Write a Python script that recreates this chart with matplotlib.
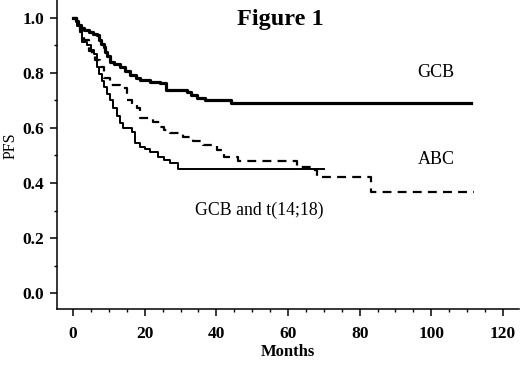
import numpy as np
import matplotlib
matplotlib.use("Agg")
import matplotlib.pyplot as plt
from matplotlib.ticker import MultipleLocator, FormatStrFormatter

# Kaplan-Meier step points (months, PFS)
gcb_t = [0, 0.8, 1.5, 2.2, 3.0, 4.3, 5.5, 6.6, 7.2, 7.8, 8.5, 9.0, 9.4, 10.3, 11.5, 13, 14.5, 16,
         17.5, 18.7, 21.5, 24.3, 26, 31.7, 33, 34.5, 36.8, 44, 111]
gcb_s = [1.0, 0.99, 0.975, 0.963, 0.955, 0.95, 0.943, 0.938, 0.92, 0.905, 0.896, 0.875, 0.86, 0.84,
         0.832, 0.823, 0.808, 0.793, 0.782, 0.775, 0.768, 0.762, 0.738, 0.732, 0.72, 0.71, 0.70,
         0.69, 0.69]

abc_t = [0, 1, 2, 3, 4.5, 5.3, 6.1, 7.5, 8.5, 10.3, 13.1, 15, 16.5, 17.8, 18.7, 22.4, 24.3, 25.5,
         27, 30.8, 33.6, 36.4, 40.1, 42, 46, 62.5, 67, 68, 83.3, 112]
abc_s = [1.0, 0.97, 0.95, 0.92, 0.88, 0.865, 0.847, 0.823, 0.78, 0.756, 0.744, 0.70, 0.688, 0.672,
         0.635, 0.623, 0.605, 0.592, 0.58, 0.568, 0.554, 0.538, 0.52, 0.496, 0.481, 0.459, 0.446,
         0.42, 0.368, 0.368]

t1418_t = [0, 1, 2.4, 4, 5, 5.7, 6.6, 7.3, 8, 8.5, 9.4, 10.3, 11.2, 12.2, 13.1, 14, 16.4, 17.3,
           18.7, 20, 21.5, 23.8, 25.5, 27, 29.4, 70]
t1418_s = [1.0, 0.97, 0.914, 0.90, 0.885, 0.87, 0.823, 0.795, 0.77, 0.75, 0.725, 0.70, 0.672, 0.645,
           0.617, 0.599, 0.587, 0.544, 0.532, 0.523, 0.514, 0.496, 0.484, 0.472, 0.45, 0.45]

plt.rcParams['font.family'] = ['Liberation Serif', 'DejaVu Serif']

fig = plt.figure(figsize=(5.2, 3.66), dpi=100)
ax = fig.add_axes([0.1096, 0.1557, 0.8885, 0.8443])

ax.plot(gcb_t, gcb_s, drawstyle='steps-post', color='black', lw=2.3)
ax.plot(t1418_t, t1418_s, drawstyle='steps-post', color='black', lw=1.4)
ax.plot(abc_t, abc_s, drawstyle='steps-post', color='black', lw=1.6, dashes=(4, 2.8))

ax.set_xlim(-4.5, 124.5)
ax.set_ylim(-0.058, 1.065)

for s in ['top', 'right']:
    ax.spines[s].set_visible(False)
for s in ['left', 'bottom']:
    ax.spines[s].set_linewidth(1.1)

ax.xaxis.set_major_locator(MultipleLocator(20))
ax.xaxis.set_minor_locator(MultipleLocator(5))
ax.yaxis.set_major_locator(MultipleLocator(0.2))
ax.yaxis.set_minor_locator(MultipleLocator(0.1))
ax.yaxis.set_major_formatter(FormatStrFormatter('%.1f'))
ax.tick_params(which='major', length=5, width=1.1, labelsize=12.5, pad=7)
ax.tick_params(which='minor', length=2.5, width=1.0)
ax.tick_params(axis='y', pad=4)
for lab in ax.get_xticklabels() + ax.get_yticklabels():
    lab.set_fontweight('bold')

ax.set_xlabel('Months', fontsize=12, fontweight='bold', labelpad=2)
ax.set_ylabel('PFS', fontsize=11.5)
ax.yaxis.set_label_coords(-0.084, 0.53)

fig.text(0.54, 0.948, 'Figure 1', ha='center', va='center', fontsize=17.5, fontweight='bold')
ax.text(101.4, 0.80, 'GCB', ha='center', va='center', fontsize=13)
ax.text(101.3, 0.487, 'ABC', ha='center', va='center', fontsize=13)
ax.text(52, 0.302, 'GCB and t(14;18)', ha='center', va='center', fontsize=12.8)

fig.savefig('out.png', dpi=100)
